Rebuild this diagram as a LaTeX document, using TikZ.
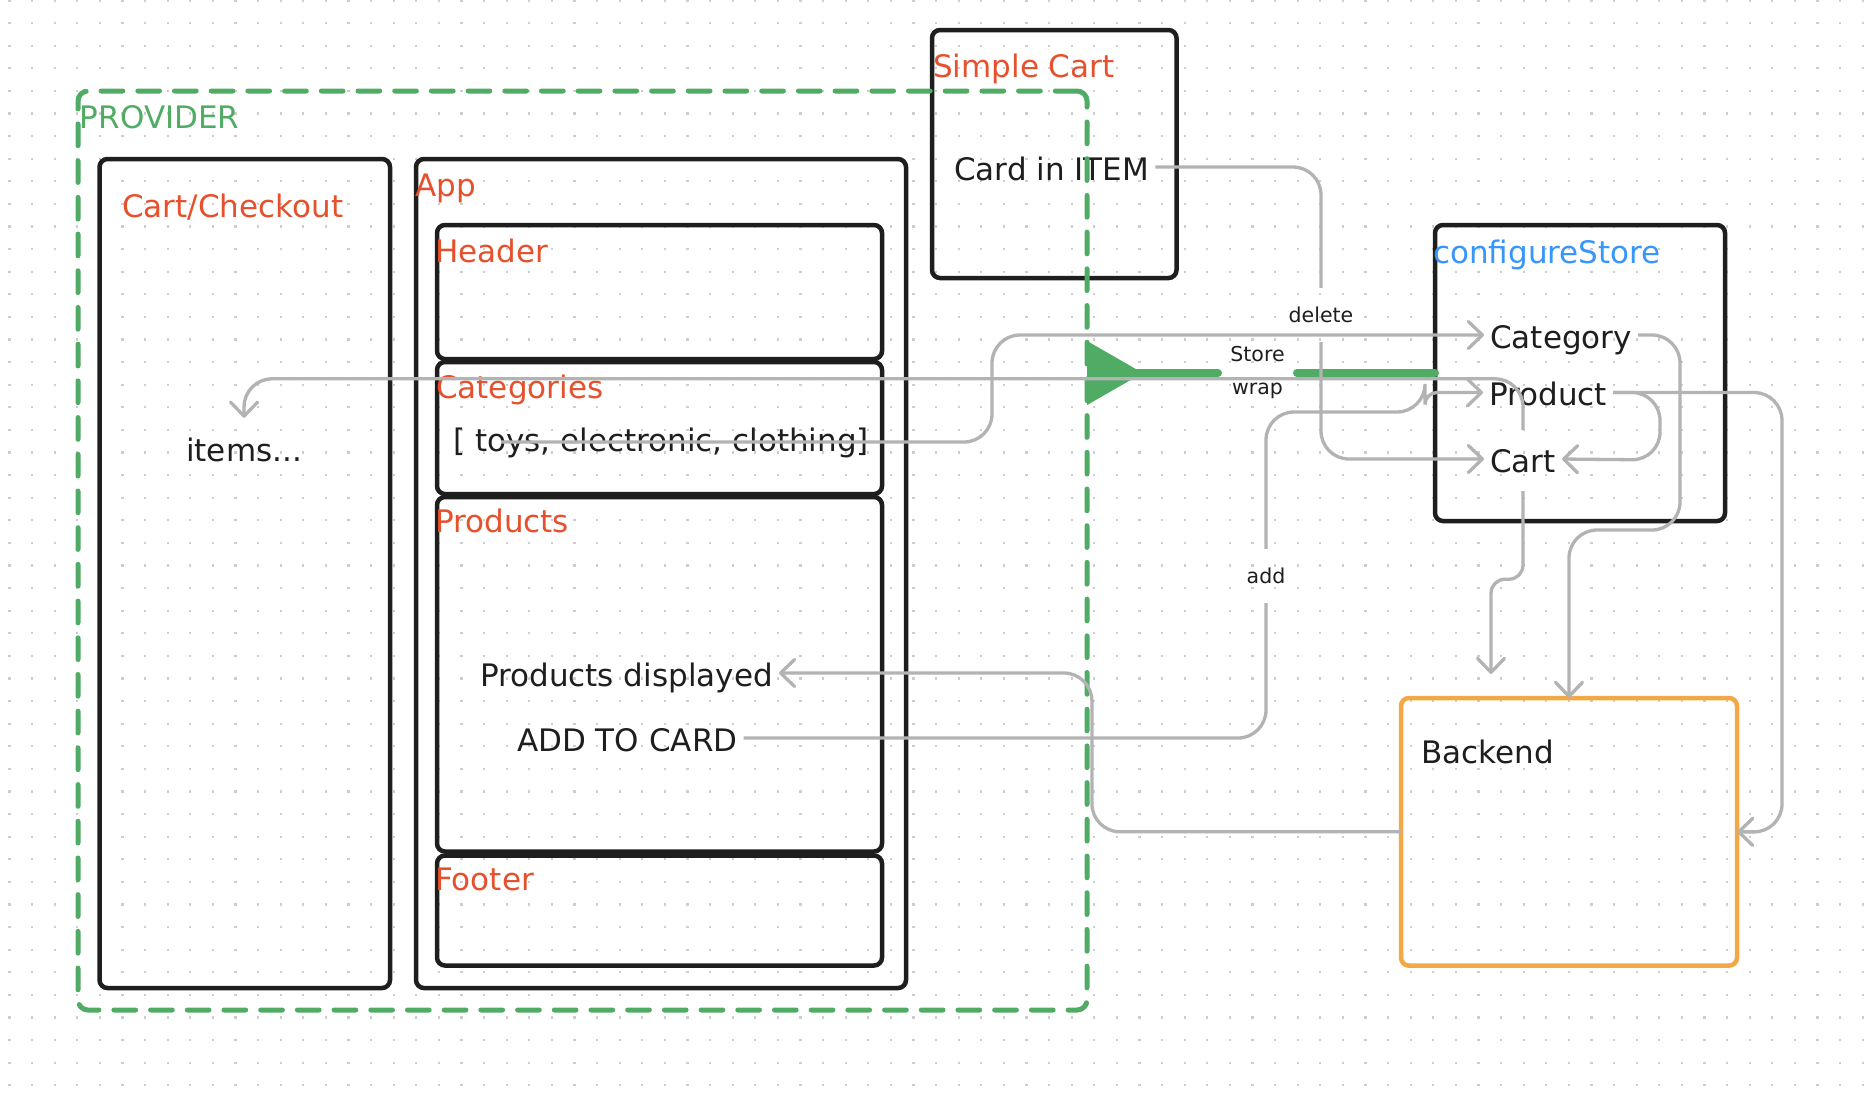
\documentclass[tikz,border=0pt]{standalone}
\usepackage{fontspec}
\setmainfont{DejaVu Sans}
\usetikzlibrary{positioning,arrows.meta}

\definecolor{boxline}{RGB}{30,30,30}
\definecolor{titlered}{RGB}{229,80,45}
\definecolor{provgreen}{RGB}{80,172,100}
\definecolor{storeblue}{RGB}{55,150,250}
\definecolor{backorange}{RGB}{243,168,70}
\definecolor{wiregray}{RGB}{179,179,179}
\definecolor{dotgray}{RGB}{205,205,205}

\begin{document}
\begin{tikzpicture}[x=1pt, y=-1pt,
    box/.style={draw=boxline, line width=4.5pt, rounded corners=8pt, inner sep=0pt, outer sep=0pt},
    boxtitle/.style={anchor=base west, inner sep=0pt, text=titlered, font=\fontsize{31}{36}\selectfont},
    txt/.style={anchor=base west, inner sep=6pt, text height=26pt, text depth=0pt, text=boxline, font=\fontsize{31}{36}\selectfont},
    wirelabel/.style={inner xsep=4pt, inner ysep=19.5pt, text height=15pt, text depth=0pt, text=boxline, font=\fontsize{20.5}{33}\selectfont},
    wire/.style={draw=wiregray, line width=3.3pt, rounded corners=28pt},
    wirearrow/.style={-{Straight Barb[length=14pt, width=27pt, round]}},
    storewire/.style={draw=provgreen, line width=8pt, line cap=round}]

    \fill[white] (0,0) rectangle (1870,1096);
    \useasboundingbox (0,0) rectangle (1870,1096);
    \foreach \i in {0,...,82}
        \draw[dotgray, line width=2.2pt, dash pattern=on 2.2pt off 20.4pt] (9.5+22.6*\i,-0.6) -- (9.5+22.6*\i,1100);

    \node[box, minimum width=290.5pt, minimum height=829pt] (cartbox)    at (244.75,573.5) {};
    \node[box, minimum width=490pt,   minimum height=829pt] (appbox)     at (661,573.5)    {};
    \node[box, minimum width=445pt,   minimum height=134pt] (headerbox)  at (659.5,292)    {};
    \node[box, minimum width=445pt,   minimum height=132pt] (catbox)     at (659.5,428)    {};
    \node[box, minimum width=445pt,   minimum height=354.5pt] (prodbox)  at (659.5,674.25) {};
    \node[box, minimum width=445pt,   minimum height=110pt] (footbox)    at (659.5,910.5)  {};
    \node[box, minimum width=244.5pt, minimum height=248pt] (simplecart) at (1054.25,154)  {};
    \node[box, minimum width=290pt,   minimum height=296pt] (cfgbox)     at (1580,373)     {};
    \node[box, draw=backorange, minimum width=336pt, minimum height=267.6pt] (backend) at (1569,831.8) {};

    \node[boxtitle, text=provgreen] (provlabel) at (79.7,128) {PROVIDER};
    \node[boxtitle] (checkoutlabel) at (122,217) {Cart/Checkout};
    \node[boxtitle] (applabel)      at (415,196) {App};
    \node[boxtitle] (headerlabel)   at (435,262) {Header};
    \node[boxtitle] (catlabel)      at (436,398) {Categories};
    \node[boxtitle] (prodlabel)     at (435,532) {Products};
    \node[boxtitle] (footlabel)     at (435,890) {Footer};
    \node[boxtitle] (simplelabel)   at (933,77)  {Simple Cart};
    \node[boxtitle, text=storeblue] (cfglabel) at (1433,263) {configureStore};

    \node[txt] (items)    at (180,461)  {items...};
    \node[txt] (toys)     at (447,451)  {[ toys, electronic, clothing]};
    \node[txt] (cardin)   at (948,180)  {Card in ITEM};
    \node[txt] (category) at (1484,348) {Category};
    \node[txt] (product)  at (1483,405.5) {Product};
    \node[txt] (cartitem) at (1484,472) {Cart};
    \node[txt] (proddisp) at (474,686)  {Products displayed};
    \node[txt] (addcard)  at (511,751)  {ADD TO CARD};
    \node[txt] (backlabel) at (1415,763) {Backend};

    \node[wirelabel] (deletelbl) at (1321,315) {delete};
    \node[wirelabel] (addlbl)    at (1266,576) {add};
    \node[align=center, inner xsep=12.2pt, inner ysep=0pt, text=boxline, font=\fontsize{20.5}{33}\selectfont] (storelbl) at (1257.5,373) {Store\\wrap};

    \node[draw=provgreen, line width=5pt, dash pattern=on 21.7pt off 15pt, line cap=round, rounded corners=10pt,
          minimum width=1009pt, minimum height=919pt, inner sep=0pt, outer sep=0pt] (provider) at (582.5,550.5) {};

    \draw[storewire] (cfgbox.west) -- (storelbl.east);
    \draw[storewire, -{Triangle[reversed, length=56pt, width=62pt]}] (storelbl.west) -- (storelbl.west -| provider.east);

    \coordinate (catsrc)  at (501,442);
    \coordinate (cartend) at (1491,674);

    \draw[wire] (cardin.east) -| (deletelbl.north);
    \draw[wire, wirearrow] (deletelbl.south) |- (cartitem.west);
    \draw[wire, wirearrow] (catsrc) -- (992,442) |- (category.west);
    \draw[wire, wirearrow] ([yshift=10pt]cartitem.north) |- ([yshift=50pt]items.north) -- ([yshift=11pt]items.north);
    \draw[wire, wirearrow] (category.east) -| (1680,530) -| (backend.north);
    \draw[wire, wirearrow] (product.east) -| (1660,460) -- (cartitem.east);
    \draw[wire, wirearrow] (product.east) -| (1782,832) -- (backend.east);
    \draw[wire, rounded corners=14pt, wirearrow] ([yshift=-13pt]cartitem.south) -- ++(0,88) -| (cartend);
    \draw[wire] (addcard.east) -| (addlbl.south);
    \draw[wire, wirearrow] (addlbl.north) |- (1425,412) [rounded corners=12pt] |- (product.west);
    \draw[wire, wirearrow] (backend.west) -| ([xshift=313pt]proddisp.east) -- (proddisp.east);
\end{tikzpicture}
\end{document}
